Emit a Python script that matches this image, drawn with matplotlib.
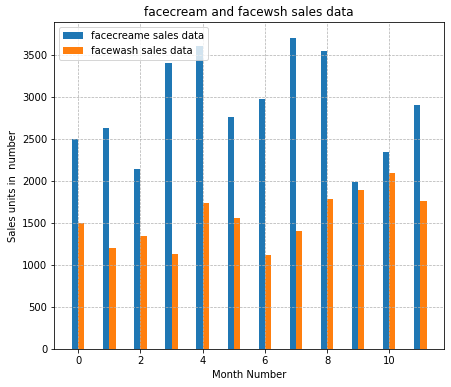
import numpy as np
import matplotlib.pyplot as plt

# monthly sales data
month_number = [0, 1, 2, 3, 4, 5, 6, 7, 8, 9, 10, 11]
facecream = [2500, 2630, 2140, 3400, 3600, 2760, 2980, 3700, 3540, 1990, 2340, 2900]
facewash = [1500, 1200, 1340, 1130, 1740, 1555, 1120, 1400, 1780, 1890, 2100, 1760]

fig = plt.figure(figsize=(451 / 72, 387 / 72), dpi=72)
fig.subplots_adjust(left=0.1204, right=0.985, bottom=0.098, top=0.942)

plt.bar(month_number, facecream, width=-0.2, align='edge', label='facecreame sales data')
plt.bar(month_number, facewash, width=0.2, align='edge', label='facewash sales data')
plt.xlabel('Month Number')
plt.ylabel('Sales units in  number')
plt.title('facecream and facewsh sales data')
plt.legend(loc='upper left')
plt.grid(True, linewidth=0.7, linestyle='--')

plt.savefig('out.png', dpi=72)
